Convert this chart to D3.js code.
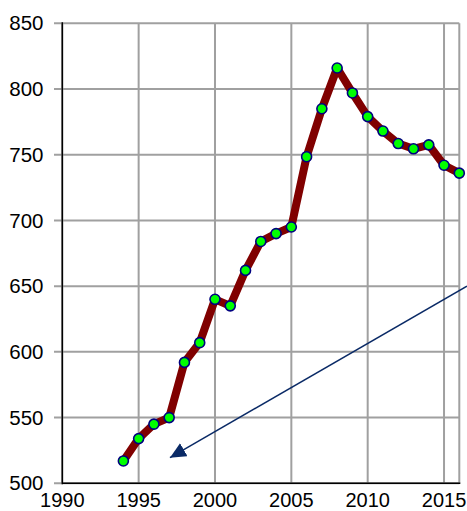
<!DOCTYPE html>
<html><head><meta charset="utf-8">
<script src="https://cdn.jsdelivr.net/npm/d3@7"></script>
<style>html,body{margin:0;padding:0;background:#fff;overflow:hidden}</style>
</head><body><svg id="c" width="467" height="511"></svg>
<script>
const years = [1994,1995,1996,1997,1998,1999,2000,2001,2002,2003,2004,2005,2006,2007,2008,2009,2010,2011,2012,2013,2014,2015,2016];
const values = [517,534,545,550,592,607,640,635,662,684,690,695,748.5,785,816,797,779,768,758.5,754.5,757.5,742,736];
const xTicks = [1990,1995,2000,2005,2010,2015];
const yTicks = [500,550,600,650,700,750,800,850];
const arrowFrom = [2016.5, 650];
const arrowTo = [1997.05, 519.5];

const svg = d3.select("#c");
const x = d3.scaleLinear().domain([1990,2016]).range([62.3,459.3]);
const y = d3.scaleLinear().domain([500,850]).range([483.3,23.3]);
const font = "Liberation Sans, Arial, sans-serif";

svg.append("g").selectAll("line").data(yTicks).join("line")
  .attr("x1",54).attr("x2",x(2016)).attr("y1",d=>y(d)).attr("y2",d=>y(d))
  .attr("stroke","#a0a0a0").attr("stroke-width",2);
svg.append("g").selectAll("line").data(xTicks.concat([2016])).join("line")
  .attr("x1",d=>x(d)).attr("x2",d=>x(d)).attr("y1",y(850)).attr("y2",y(500))
  .attr("stroke","#a0a0a0").attr("stroke-width",2);
svg.append("line").attr("x1",x(1990)).attr("x2",x(1990)).attr("y1",y(850)-1).attr("y2",y(500)+1)
  .attr("stroke","#000").attr("stroke-width",1.5);
svg.append("line").attr("x1",x(1990)).attr("x2",x(2016)+1).attr("y1",y(500)).attr("y2",y(500))
  .attr("stroke","#000").attr("stroke-width",1.5);

svg.append("g").selectAll("text").data(yTicks).join("text")
  .attr("x",43.5).attr("y",d=>y(d)).attr("dy","0.35em").attr("text-anchor","end")
  .attr("font-family",font).attr("font-size",20.5).attr("fill","#000").text(d=>d);
svg.append("g").selectAll("text").data(xTicks).join("text")
  .attr("x",d=>x(d)).attr("y",506.5).attr("text-anchor","middle")
  .attr("font-family",font).attr("font-size",20).attr("fill","#000").text(d=>d);

const pts = years.map((d,i)=>[d,values[i]]);
svg.append("path").datum(pts)
  .attr("d", d3.line().x(d=>x(d[0])).y(d=>y(d[1])))
  .attr("fill","none").attr("stroke","#800000").attr("stroke-width",8)
  .attr("stroke-linejoin","round").attr("stroke-linecap","round");
svg.append("g").selectAll("circle").data(pts).join("circle")
  .attr("cx",d=>x(d[0])).attr("cy",d=>y(d[1])).attr("r",5)
  .attr("fill","#00ff00").attr("stroke","#000080").attr("stroke-width",1.6);

const defs = svg.append("defs");
defs.append("marker").attr("id","ah").attr("viewBox","0 0 10 10").attr("refX",10).attr("refY",5)
  .attr("markerWidth",16).attr("markerHeight",15).attr("markerUnits","userSpaceOnUse").attr("orient","auto")
  .attr("preserveAspectRatio","none")
  .append("path").attr("d","M0,0 L10,5 L0,10 Z").attr("fill","#0a2a66");
svg.append("line")
  .attr("x1",x(arrowFrom[0])).attr("y1",y(arrowFrom[1]))
  .attr("x2",x(arrowTo[0])).attr("y2",y(arrowTo[1]))
  .attr("stroke","#0a2a66").attr("stroke-width",1.5).attr("marker-end","url(#ah)");
</script></body></html>
